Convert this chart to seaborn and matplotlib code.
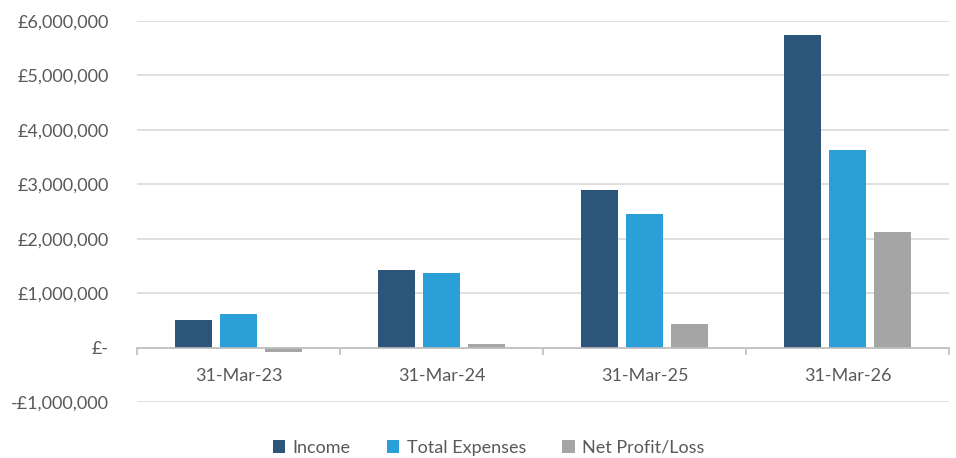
import matplotlib
matplotlib.use("Agg")
import matplotlib.pyplot as plt
import matplotlib.ticker as mticker
import seaborn as sns
import pandas as pd
import numpy as np

categories = ["31-Mar-23", "31-Mar-24", "31-Mar-25", "31-Mar-26"]
income = [500000, 1430000, 2890000, 5750000]
total_expenses = [610000, 1370000, 2450000, 3630000]
net_profit = [-85000, 60000, 435000, 2120000]
series_names = ["Income", "Total Expenses", "Net Profit/Loss"]
colors = ["#2B5679", "#2A9FD8", "#A5A5A5"]

df = pd.DataFrame({
    "Date": categories * 3,
    "Series": [series_names[0]] * 4 + [series_names[1]] * 4 + [series_names[2]] * 4,
    "Value": income + total_expenses + net_profit,
})

sns.set_theme(style="white")
plt.rcParams["font.family"] = ["Lato", "DejaVu Sans"]

fig = plt.figure(figsize=(9.56, 4.58), dpi=100)
ax = fig.add_axes([0.1433, 0.1223, 0.8494, 0.8318])

sns.barplot(data=df, x="Date", y="Value", hue="Series", palette=colors,
            width=0.665, gap=0.19, ax=ax, saturation=1, linewidth=0,
            legend=True)

ax.set_ylim(-1000000, 6000000)
ax.set_xlim(-0.5, 3.5)
ax.yaxis.set_major_locator(mticker.MultipleLocator(1000000))

def fmt(v, pos):
    if abs(v) < 1:
        return "£-"
    if v < 0:
        return "-£{:,.0f}".format(-v)
    return "£{:,.0f}".format(v)

ax.yaxis.set_major_formatter(mticker.FuncFormatter(fmt))
ax.grid(axis="y", color="#D9D9D9", linewidth=1.2)
ax.set_axisbelow(True)
for s in ["left", "right", "top"]:
    ax.spines[s].set_visible(False)
ax.spines["bottom"].set_position(("data", 0))
ax.spines["bottom"].set_color("#BFBFBF")
ax.spines["bottom"].set_linewidth(1.2)
ax.spines["bottom"].set_zorder(1)

ax.set_xticks(np.arange(-0.5, 4.0, 1.0), minor=True)
ax.tick_params(axis="x", which="minor", length=5, width=1.2, color="#BFBFBF", bottom=True)
ax.tick_params(axis="x", which="major", length=0, pad=15, labelsize=13, labelcolor="#595959")
ax.tick_params(axis="y", length=0, pad=20, labelsize=13, labelcolor="#595959")
ax.set_xlabel("")
ax.set_ylabel("")

leg = ax.get_legend()
if leg is not None:
    leg.remove()
handles, labels = ax.get_legend_handles_labels()
fig.legend(handles[:3], labels[:3], loc="center", bbox_to_anchor=(0.511, 0.022), ncol=3,
           frameon=False, fontsize=13, handlelength=0.7, handleheight=0.7,
           handletextpad=0.4, columnspacing=2.0, labelcolor="#595959")

fig.savefig("out.png", dpi=100)
